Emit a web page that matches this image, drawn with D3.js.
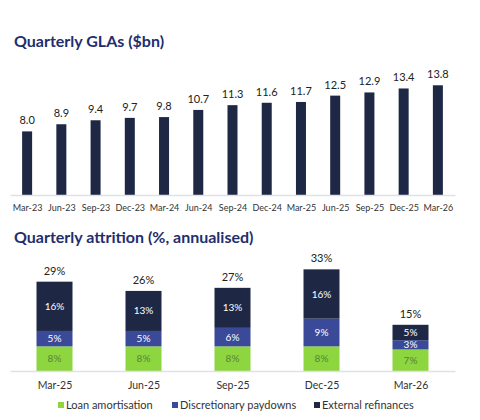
<!DOCTYPE html>
<html>
<head>
<meta charset="utf-8">
<script src="https://cdn.jsdelivr.net/npm/d3@7"></script>
<style>
  body { margin: 0; background: #fff; }
  text { font-family: Lato, "Open Sans", sans-serif; }
</style>
</head>
<body>
<script>
'use strict';

// quarterly GLAs ($bn)
const glaQuarters = ["Mar-23", "Jun-23", "Sep-23", "Dec-23", "Mar-24", "Jun-24", "Sep-24",
                     "Dec-24", "Mar-25", "Jun-25", "Sep-25", "Dec-25", "Mar-26"];
const glaValues = [8.0, 8.9, 9.4, 9.7, 9.8, 10.7, 11.3, 11.6, 11.7, 12.5, 12.9, 13.4, 13.8];

// quarterly attrition (%, annualised)
const attrQuarters = ["Mar-25", "Jun-25", "Sep-25", "Dec-25", "Mar-26"];
const loanAmortisation = [8, 8, 8, 8, 7];
const discretionaryPaydowns = [5, 5, 6, 9, 3];
const externalRefinances = [16, 13, 13, 16, 5];
const attrTotals = [29, 26, 27, 33, 15];
const seriesNames = ["Loan amortisation", "Discretionary paydowns", "External refinances"];

let width = 480;
let height = 420;
let titleColor = "#1f2e6e";
let colors = ["#8ed63f", "#3b4a98", "#1e2845"];
let labelColors = ["#55853a", "#ffffff", "#ffffff"];

let svg = d3.select("body").append("svg")
  .attr("width", width)
  .attr("height", height);

// ---- top chart: GLAs ----
svg.append("text")
  .attr("x", 14).attr("y", 47)
  .attr("fill", titleColor)
  .style("font-size", "16px")
  .style("font-weight", "bold")
  .text("Quarterly GLAs ($bn)");

let xTop = d3.scalePoint().domain(glaQuarters).range([10, 455]).padding(0.5);
let yTop = d3.scaleLinear().domain([0, 14]).range([195, 195 - 14 * 7.95]);
let topBarW = 10;

svg.append("g").selectAll("rect")
  .data(glaValues)
  .enter().append("rect")
    .attr("x", (d, i) => xTop(glaQuarters[i]) - topBarW / 2)
    .attr("y", d => yTop(d))
    .attr("width", topBarW)
    .attr("height", d => yTop(0) - yTop(d))
    .attr("fill", colors[2]);

svg.append("g").selectAll("text")
  .data(glaValues)
  .enter().append("text")
    .attr("x", (d, i) => xTop(glaQuarters[i]))
    .attr("y", d => yTop(d) - 7)
    .attr("text-anchor", "middle")
    .attr("fill", "#222")
    .style("font-size", "11px")
    .text(d => d.toFixed(1));

let topAxis = svg.append("g")
  .attr("transform", "translate(0," + yTop(0) + ")")
  .call(d3.axisBottom(xTop).tickSize(0).tickSizeOuter(0).tickPadding(10));
topAxis.select(".domain").attr("stroke", "#dde1ea").attr("stroke-width", 1.5);
topAxis.selectAll("text")
  .attr("fill", "#333")
  .style("font-size", "9px")
  .style("font-family", "Lato, sans-serif");

// ---- bottom chart: attrition ----
svg.append("text")
  .attr("x", 14).attr("y", 243)
  .attr("fill", titleColor)
  .style("font-size", "16px")
  .style("font-weight", "bold")
  .text("Quarterly attrition (%, annualised)");

let xBot = d3.scalePoint().domain(attrQuarters).range([10, 455]).padding(0.5);
let yBot = d3.scaleLinear().domain([0, 35]).range([371, 371 - 35 * 3.08]);
let botBarW = 36;

let rows = attrQuarters.map((q, i) => ({
  q: q,
  a: loanAmortisation[i],
  b: discretionaryPaydowns[i],
  c: externalRefinances[i]
}));
let stacked = d3.stack().keys(["a", "b", "c"])(rows);

let layers = svg.append("g").selectAll("g")
  .data(stacked)
  .enter().append("g")
    .attr("fill", (d, i) => colors[i]);

layers.selectAll("rect")
  .data(d => d)
  .enter().append("rect")
    .attr("x", d => xBot(d.data.q) - botBarW / 2)
    .attr("y", d => yBot(d[1]))
    .attr("width", botBarW)
    .attr("height", d => yBot(d[0]) - yBot(d[1]));

// segment labels
stacked.forEach((layer, li) => {
  svg.append("g").selectAll("text")
    .data(layer)
    .enter().append("text")
      .attr("x", d => xBot(d.data.q))
      .attr("y", d => (yBot(d[0]) + yBot(d[1])) / 2)
      .attr("dy", "0.35em")
      .attr("text-anchor", "middle")
      .attr("fill", labelColors[li])
      .style("font-size", "10px")
      .text(d => (d[1] - d[0]) + "%");
});

// totals
svg.append("g").selectAll("text")
  .data(attrTotals)
  .enter().append("text")
    .attr("x", (d, i) => xBot(attrQuarters[i]))
    .attr("y", d => yBot(d) - 7)
    .attr("text-anchor", "middle")
    .attr("fill", "#222")
    .style("font-size", "11px")
    .text(d => d + "%");

let botAxis = svg.append("g")
  .attr("transform", "translate(0," + yBot(0) + ")")
  .call(d3.axisBottom(xBot).tickSize(0).tickSizeOuter(0).tickPadding(11));
botAxis.select(".domain").attr("stroke", "#dde1ea").attr("stroke-width", 1.5);
botAxis.selectAll("text")
  .attr("fill", "#333")
  .style("font-size", "10.5px")
  .style("font-family", "Lato, sans-serif");

// legend
let legendX = [58, 172, 314];
let legend = svg.append("g").selectAll("g")
  .data(seriesNames)
  .enter().append("g")
    .attr("transform", (d, i) => "translate(" + legendX[i] + ",405)");
legend.append("rect")
  .attr("x", 0).attr("y", -3)
  .attr("width", 6).attr("height", 6)
  .attr("fill", (d, i) => colors[i]);
legend.append("text")
  .attr("x", 8).attr("dy", "0.35em")
  .attr("fill", "#333")
  .style("font-size", "11px")
  .text(d => d);
</script>
</body>
</html>
